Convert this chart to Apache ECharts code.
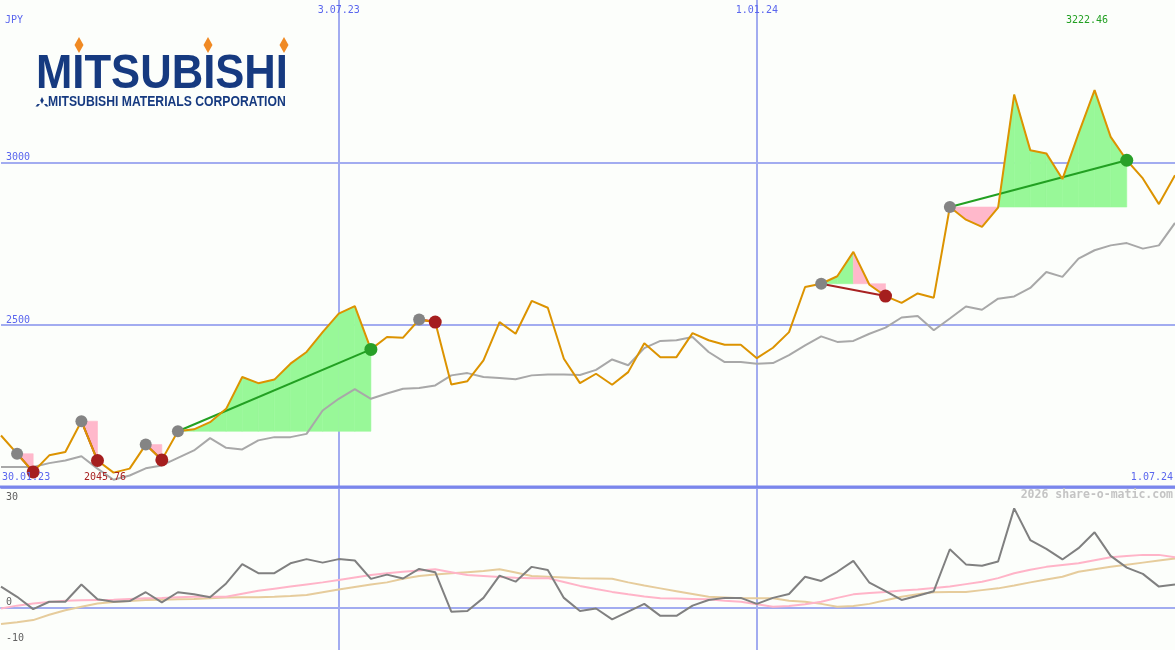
<!DOCTYPE html>
<html><head><meta charset="utf-8">
<script src="https://cdn.jsdelivr.net/npm/echarts@6/dist/echarts.min.js"></script>
<style>html,body{margin:0;padding:0;background:#fcfefb;}#c{width:1175px;height:650px;}</style>
</head><body><div id="c"></div>
<script>
// weekly categories starting Monday 6.02.23
const dates = [];
for (let i = 0; i < 74; i++) {
  const d = new Date(Date.UTC(2023, 1, 6 + 7 * i));
  dates.push(d.getUTCDate() + '.' + String(d.getUTCMonth() + 1).padStart(2, '0') + '.' + String(d.getUTCFullYear()).slice(2));
}
const xTickLabels = ['3.07.23', '1.01.24'];
const yTicksTop = [2500, 3000];
const yTicksBottom = [30, 0, -10];

const price = [2160,2104,2048,2099,2109,2204,2083,2045.76,2058,2132,
  2085,2173,2179,2201,2242,2340,2321,2332,2381,2417,
  2478,2535,2558,2425,2463,2461,2517,2509,2317,2327,
  2391,2509,2473,2574,2553,2396,2321,2350,2316,2355,
  2444,2401,2401,2475,2453,2439,2439,2398,2430,2478,
  2617,2627,2650,2725,2624,2589,2568,2597,2584,2863,
  2824,2802,2861,3209,3038,3028,2949,3089,3222.46,3079,
  3007,2951,2872,2961];
const avg = [2063,2063,2063,2075,2083,2096,2058,2024,2037,2059,
  2068,2091,2114,2152,2122,2117,2145,2155,2155,2165,
  2237,2273,2303,2273,2289,2304,2306,2314,2345,2352,
  2340,2337,2333,2345,2348,2348,2346,2362,2394,2376,
  2429,2451,2453,2463,2417,2386,2386,2381,2383,2407,
  2437,2465,2448,2451,2473,2492,2523,2528,2484,2520,
  2557,2547,2581,2588,2614,2663,2648,2704,2730,2745,
  2752,2735,2745,2814];
const osc = [6.0,3.1,-0.4,1.7,1.7,6.6,2.4,1.7,1.9,4.4,
  1.5,4.4,3.8,3.0,6.9,12.4,9.8,9.8,12.6,13.8,
  12.8,13.8,13.4,8.2,9.4,8.3,11.0,10.1,-1.1,-0.9,
  2.8,9.1,7.4,11.6,10.7,2.8,-0.9,-0.2,-3.3,-1.1,
  1.1,-2.3,-2.3,0.6,2.2,2.8,2.8,1.1,2.8,3.9,
  8.8,7.6,10.2,13.3,7.1,4.7,2.2,3.4,4.7,16.6,
  12.3,11.9,13.1,28.2,19.2,16.7,13.7,16.9,21.4,14.7,
  11.4,9.6,6.0,6.6];
const oscPink = [-0.2,0.6,1.2,1.6,2.0,2.1,2.2,2.3,2.5,2.7,
  2.8,3.0,3.1,3.1,3.1,4.0,4.8,5.4,6.0,6.6,
  7.2,7.9,8.6,9.3,9.8,10.2,10.6,10.9,10.1,9.3,
  9.0,8.7,8.5,8.4,8.4,7.3,6.2,5.3,4.5,3.8,
  3.2,2.7,2.6,2.5,2.4,2.0,1.7,1.0,0.3,0.5,
  1.0,1.7,2.8,3.8,4.2,4.5,4.9,5.2,5.6,6.0,
  6.7,7.4,8.4,9.8,10.8,11.6,12.1,12.6,13.5,14.3,
  14.7,15.0,15.0,14.3];
const oscTan = [-4.6,-4.1,-3.5,-2.0,-0.7,0.3,1.2,1.6,1.9,2.2,
  2.3,2.4,2.5,2.7,2.9,3.0,3.0,3.1,3.3,3.6,
  4.4,5.2,5.9,6.6,7.2,8.2,9.0,9.4,9.8,10.1,
  10.4,10.9,10.0,9.0,8.8,8.6,8.4,8.3,8.2,7.2,
  6.3,5.5,4.7,3.9,3.1,2.9,2.7,2.7,2.7,2.0,
  1.7,1.1,0.3,0.5,1.1,2.1,3.1,3.8,4.4,4.5,
  4.5,5.0,5.5,6.3,7.2,8.0,8.8,10.2,10.9,11.6,
  12.2,12.8,13.4,14.0];
// signal events: [start index, end index]
const events = [[1,2],[5,6],[9,10],[11,23],[26,27],[51,55],[59,70]];

const BLUE = '#5a66ee', GRIDC = '#a2acf0', MONO = '"DejaVu Sans Mono", monospace';
const NAVY = '#163a80', LOGOF = '"Liberation Sans", Arial, sans-serif';
const chart = echarts.init(document.getElementById('c'), null, {renderer: 'canvas'});
const tickOnDate = (idx, val) => xTickLabels.indexOf(val) >= 0;

chart.setOption({
  animation: false,
  backgroundColor: '#fcfefb',
  grid: [
    {left: 1, right: 0, top: -2, height: 652},
    {left: 1, right: 0, top: 502, height: 141}
  ],
  xAxis: [
    {gridIndex: 0, type: 'category', data: dates, boundaryGap: false, position: 'top',
     axisLine: {show: false}, axisTick: {show: false},
     axisLabel: {inside: true, interval: tickOnDate, margin: 5, color: BLUE, fontFamily: MONO, fontSize: 10, verticalAlign: 'top'},
     splitLine: {show: true, interval: tickOnDate, lineStyle: {color: GRIDC, width: 2}}},
    {gridIndex: 1, type: 'category', data: dates, boundaryGap: false,
     axisLine: {show: true, onZero: true, lineStyle: {color: GRIDC, width: 2}},
     axisTick: {show: false}, axisLabel: {show: false}, splitLine: {show: false}}
  ],
  yAxis: [
    {gridIndex: 0, type: 'value', min: 1500, max: 3500, interval: 500,
     axisLine: {show: false}, axisTick: {show: false},
     axisLabel: {inside: true, margin: 5, color: BLUE, fontFamily: MONO, fontSize: 10, verticalAlign: 'bottom',
       formatter: v => yTicksTop.indexOf(v) >= 0 ? String(v) : ''},
     splitLine: {show: true, showMinLine: false, showMaxLine: false, lineStyle: {color: GRIDC, width: 2}}},
    {gridIndex: 1, type: 'value', min: -10, max: 30, interval: 10,
     axisLine: {show: false}, axisTick: {show: false},
     axisLabel: {inside: true, margin: 5, color: '#606060', fontFamily: MONO, fontSize: 10, verticalAlign: 'bottom',
       formatter: v => yTicksBottom.indexOf(v) >= 0 ? String(v) : ''},
     splitLine: {show: false}}
  ],
  series: [
    {type: 'custom', name: 'fills', xAxisIndex: 0, yAxisIndex: 0, z: 1, silent: true,
     data: events,
     renderItem: function (params, api) {
       const s = api.value(0), e = api.value(1);
       const base = price[s];
       const children = [];
       for (let j = s; j < e; j++) {
         const pts = [api.coord([j, base]), api.coord([j, price[j]]), api.coord([j + 1, price[j + 1]]), api.coord([j + 1, base])];
         const col = price[j + 1] >= base ? '#98f898' : '#ffb8cb';
         children.push({type: 'polygon', shape: {points: pts}, style: {fill: col, stroke: col, lineWidth: 0.6}});
       }
       return {type: 'group', children: children};
     }},
    {type: 'line', name: 'avg', xAxisIndex: 0, yAxisIndex: 0, z: 2, data: avg, symbol: 'none',
     lineStyle: {color: '#a8a8a8', width: 2}},
    {type: 'custom', name: 'trend', xAxisIndex: 0, yAxisIndex: 0, z: 3, silent: true,
     data: events,
     renderItem: function (params, api) {
       const s = api.value(0), e = api.value(1);
       const p1 = api.coord([s, price[s]]), p2 = api.coord([e, price[e]]);
       return {type: 'line', shape: {x1: p1[0], y1: p1[1], x2: p2[0], y2: p2[1]},
         style: {stroke: price[e] >= price[s] ? '#22a022' : '#a82222', lineWidth: 2}};
     }},
    {type: 'line', name: 'price', xAxisIndex: 0, yAxisIndex: 0, z: 4, data: price, symbol: 'none',
     lineStyle: {color: '#dc9300', width: 2}},
    {type: 'scatter', name: 'starts', xAxisIndex: 0, yAxisIndex: 0, z: 5, symbolSize: 12,
     data: events.map(ev => [ev[0], price[ev[0]]]),
     itemStyle: {color: '#848484', opacity: 1}},
    {type: 'scatter', name: 'ends', xAxisIndex: 0, yAxisIndex: 0, z: 5, symbolSize: 13,
     data: events.map(ev => ({value: [ev[1], price[ev[1]]],
       itemStyle: {color: price[ev[1]] >= price[ev[0]] ? '#28a028' : '#a51e1e'}})),
     itemStyle: {opacity: 1}},
    {type: 'line', name: 'oscTan', xAxisIndex: 1, yAxisIndex: 1, z: 2, data: oscTan, symbol: 'none',
     lineStyle: {color: '#e6cc9c', width: 2}},
    {type: 'line', name: 'oscPink', xAxisIndex: 1, yAxisIndex: 1, z: 3, data: oscPink, symbol: 'none',
     lineStyle: {color: '#ffb4c8', width: 2}},
    {type: 'line', name: 'osc', xAxisIndex: 1, yAxisIndex: 1, z: 4, data: osc, symbol: 'none',
     lineStyle: {color: '#808080', width: 2}}
  ],
  graphic: [
    {type: 'line', z: 50, shape: {x1: 0, y1: 487, x2: 1175, y2: 487}, style: {stroke: '#7a86ec', lineWidth: 3}},
    {type: 'text', z: 50, x: 5, y: 15, style: {text: 'JPY', font: '10px ' + MONO, fill: BLUE, verticalAlign: 'top'}},
    {type: 'text', z: 50, x: 1066, y: 15, style: {text: '3222.46', font: '10px ' + MONO, fill: '#22a022', verticalAlign: 'top'}},
    {type: 'text', z: 50, x: 2, y: 472.5, style: {text: '30.01.23', font: '10px ' + MONO, fill: BLUE, verticalAlign: 'top'}},
    {type: 'text', z: 50, x: 84, y: 472.5, style: {text: '2045.76', font: '10px ' + MONO, fill: '#a82222', verticalAlign: 'top'}},
    {type: 'text', z: 50, x: 1173, y: 472.5, style: {text: '1.07.24', font: '10px ' + MONO, fill: BLUE, align: 'right', verticalAlign: 'top'}},
    {type: 'text', z: 50, x: 1173, y: 489, style: {text: '2026 share-o-matic.com', font: 'bold 11.5px ' + MONO, fill: '#c4c4c4', align: 'right', verticalAlign: 'top'}},
    // logo
    {type: 'text', z: 50, x: 36, y: 50, scaleX: 0.89, style: {text: 'MITSUBISHI', font: 'bold 49px ' + LOGOF, fill: NAVY, verticalAlign: 'top'}},
    {type: 'text', z: 50, x: 48, y: 95.5, scaleX: 0.87, style: {text: 'MITSUBISHI MATERIALS CORPORATION', font: 'bold 14px ' + LOGOF, fill: NAVY, verticalAlign: 'top'}},
    {type: 'polygon', z: 50, shape: {points: [[79,37],[83.5,45],[79,53],[74.5,45]]}, style: {fill: '#f08a24'}},
    {type: 'polygon', z: 50, shape: {points: [[208,37],[212.5,45],[208,53],[203.5,45]]}, style: {fill: '#f08a24'}},
    {type: 'polygon', z: 50, shape: {points: [[284,37],[288.5,45],[284,53],[279.5,45]]}, style: {fill: '#f08a24'}},
    {type: 'polygon', z: 50, shape: {points: [[42,97],[43.8,100.5],[42,104],[40.2,100.5]]}, style: {fill: NAVY}},
    {type: 'polygon', z: 50, shape: {points: [[40,104],[38,106.5],[35.5,106.5],[37.5,104]]}, style: {fill: NAVY}},
    {type: 'polygon', z: 50, shape: {points: [[44,104],[46.5,104],[48.5,106.5],[46,106.5]]}, style: {fill: NAVY}}
  ]
});
</script></body></html>
